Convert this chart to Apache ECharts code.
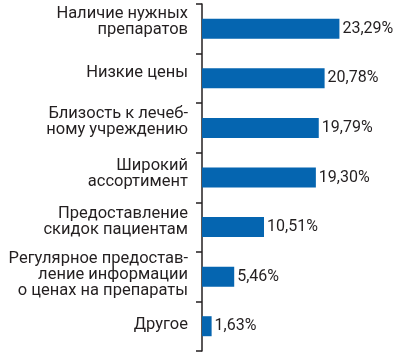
<!DOCTYPE html>
<html>
<head>
<meta charset="utf-8">
<script src="https://cdn.jsdelivr.net/npm/echarts@6/dist/echarts.min.js"></script>
<style>html,body{margin:0;padding:0;background:#fff}#c{width:400px;height:358px}</style>
</head>
<body>
<div id="c"></div>
<script>
const categories = [
  'Наличие нужных\nпрепаратов',
  'Низкие цены',
  'Близость к лечеб-\nному учреждению',
  'Широкий\nассортимент',
  'Предоставление\nскидок пациентам',
  'Регулярное предостав-\nление информации\nо ценах на препараты',
  'Другое'
];
const values = [23.29, 20.78, 19.79, 19.30, 10.51, 5.46, 1.63];
// styling only: how far each category label sits above its bar centre (px)
const labelLift = [7, 5, 6.5, 4, 5, 2, 1];

const chart = echarts.init(document.getElementById('c'), null, {renderer: 'canvas'});
const textColor = '#231f20';
const rich = {};
labelLift.forEach((l, i) => { rich['s' + i] = {fontSize: 1, lineHeight: 2 * l}; });
chart.setOption({
  animation: false,
  grid: {left: 202, right: 21, top: 4, bottom: 7},
  xAxis: {
    type: 'value', min: 0, max: 30, show: false
  },
  yAxis: {
    type: 'category', inverse: true, data: categories,
    axisLine: {show: true, lineStyle: {color: '#231f20', width: 1.5}},
    axisTick: {show: true, length: 6, lineStyle: {color: '#231f20', width: 1.5}},
    axisLabel: {
      margin: 14, color: textColor, fontFamily: 'Roboto', fontSize: 16.5, lineHeight: 16, align: 'right',
      formatter: (v, i) => v + '\n{s' + i + '|\u200b}',
      rich: rich
    },
    splitLine: {show: false}
  },
  series: [{
    type: 'bar', data: values, barWidth: 20,
    itemStyle: {color: '#0565b0'},
    label: {
      show: true, position: 'right', distance: 3, color: textColor,
      fontFamily: 'Roboto', fontSize: 16,
      formatter: p => p.value.toFixed(2).replace('.', ',') + '%'
    }
  }]
});
</script>
</body>
</html>
